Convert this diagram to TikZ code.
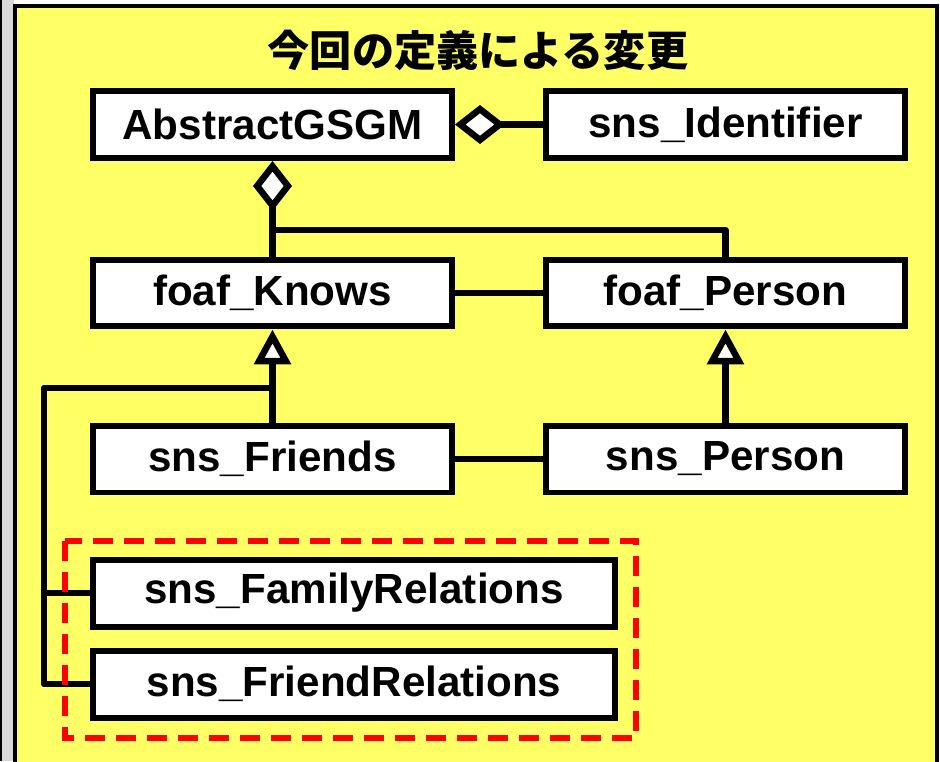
\documentclass[tikz,border=0pt]{standalone}
\usepackage{fontspec}
\setmainfont{Liberation Sans}
\newfontfamily\cjkfont{Noto Sans CJK JP}
\usetikzlibrary{arrows.meta}
\definecolor{panel}{RGB}{255,255,102}

\begin{document}
\begin{tikzpicture}[x=0.02cm, y=-0.02cm, box/.style={draw, fill=white, line width=0.12cm, minimum height=1.34cm, font=\fontsize{24}{28}\selectfont\bfseries}, wide/.style={box, minimum width=7.18cm}, wider/.style={box, minimum width=10.44cm}, n/.style={line width=0.13cm, line join=round}, agg/.style={{Diamond[fill=white, length=1cm, width=0.78cm]}-, line width=0.13cm}, gen/.style={-{Triangle[fill=white, length=0.7cm, width=0.72cm]}, line width=0.13cm}]
            \useasboundingbox (0,0) rectangle (940,761);
            % panel
            \fill[gray!30] (0,0) rectangle (14,761);
            \draw[line width=0.04cm] (1,0) -- (1,761);
            \draw[line width=0.07cm, fill=panel] (15,6) rectangle (937,800);
            \node (title) at (478,50) {\cjkfont\fontsize{24}{28}\selectfont\bfseries 今回の定義による変更};
            % nodes
            \node[wide] (abs) at (272.5,124.5) {AbstractGSGM};
            \node[wide] (ident) at (725.5,124.5) {sns\_Identifier};
            \node[wide] (knows) at (272.5,293) {foaf\_Knows};
            \node[wide] (fperson) at (725.5,293) {foaf\_Person};
            \node[wide] (friends) at (272.5,459) {sns\_Friends};
            \node[wide] (sperson) at (725.5,459) {sns\_Person};
            \node[wider] (family) at (354,593) {sns\_FamilyRelations};
            \node[wider] (friendrel) at (354,684) {sns\_FriendRelations};
            \coordinate (j1) at (272.5,230);
            \coordinate (j2) at (272.5,388);
            \coordinate (bus) at (44,388);
            % edges
            \draw [agg] (abs.south) -- (knows.north);
            \draw [n] (j1) -| (fperson.north);
            \draw [agg] (abs.east) -- (ident.west);
            \draw [n] (knows.east) -- (fperson.west);
            \draw [gen] (friends.north) -- (knows.south);
            \draw [gen] (sperson.north) -- (fperson.south);
            \draw [n] (friends.east) -- (sperson.west);
            \draw [n] (j2) -- (bus) |- (friendrel.west);
            \draw [n] (bus |- family.west) -- (family.west);
            % new classes
            \draw [red, line width=0.12cm, dash pattern=on 0.4cm off 0.22cm] (65,541) rectangle (636,738);
        \end{tikzpicture}
\end{document}
